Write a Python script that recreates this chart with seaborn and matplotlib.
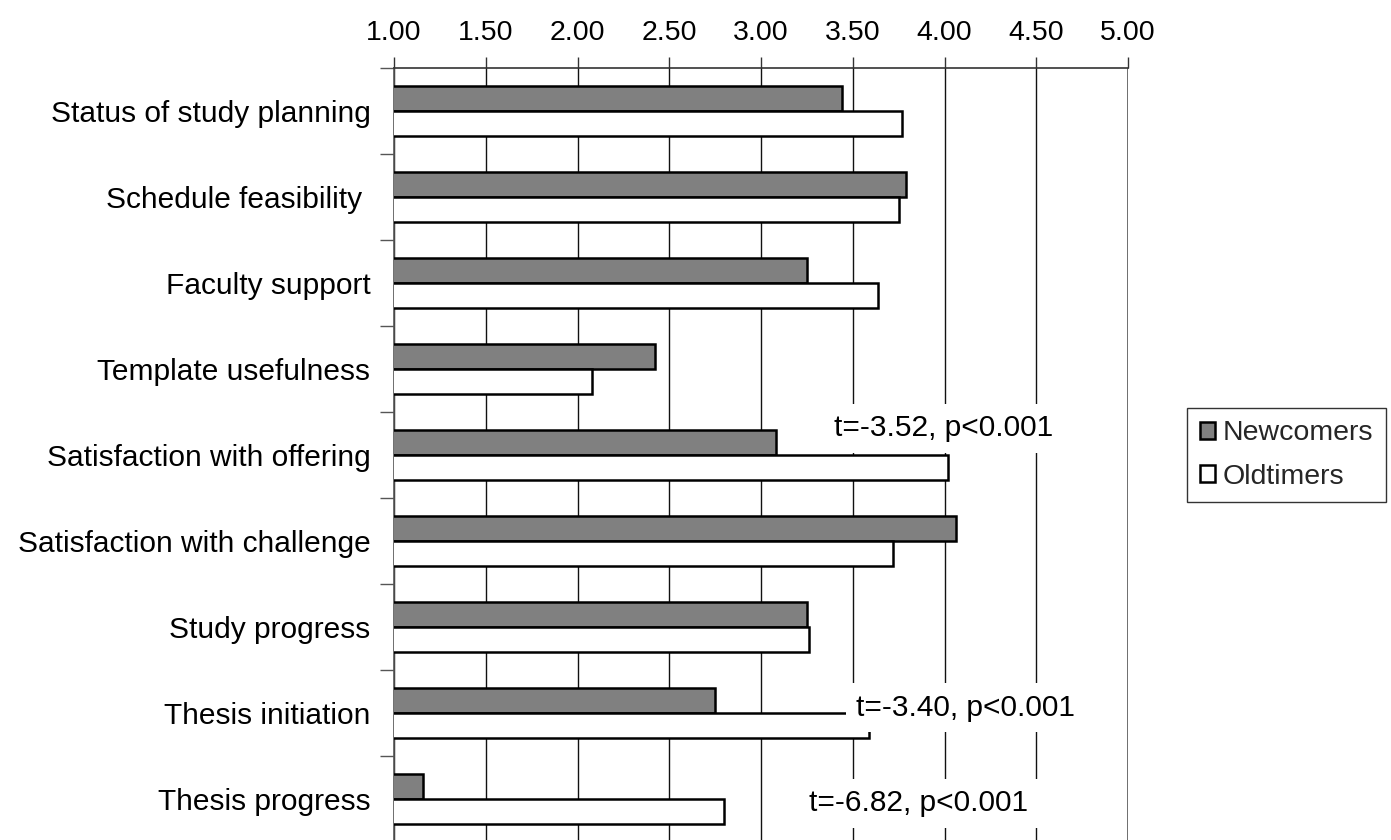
import matplotlib
matplotlib.use("Agg")
import matplotlib.pyplot as plt
import seaborn as sns
import pandas as pd
import numpy as np

categories = ["Status of study planning", "Schedule feasibility ", "Faculty support",
              "Template usefulness", "Satisfaction with offering",
              "Satisfaction with challenge", "Study progress", "Thesis initiation",
              "Thesis progress"]
newcomers = [3.44, 3.79, 3.25, 2.42, 3.08, 4.06, 3.25, 2.75, 1.16]
oldtimers = [3.77, 3.75, 3.64, 2.08, 4.02, 3.72, 3.26, 3.59, 2.80]
groups = ["Newcomers", "Oldtimers"]
xticks = [1.00, 1.50, 2.00, 2.50, 3.00, 3.50, 4.00, 4.50, 5.00]
annotations = [("t=-3.52, p<0.001", 3.40, 3.69),
               ("t=-3.40, p<0.001", 3.52, 6.94),
               ("t=-6.82, p<0.001", 3.26, 8.05)]

df = pd.DataFrame({
    "category": categories * 2,
    "value": newcomers + oldtimers,
    "group": [groups[0]] * len(categories) + [groups[1]] * len(categories),
})

sns.set_style("white")
plt.rcParams["font.family"] = ["Liberation Sans", "DejaVu Sans"]
FS = 20.5
FS_Y = 21.5

fig = plt.figure(figsize=(13.91, 8.40), dpi=100)
ax = fig.add_axes([394/1391, 1 - 842/840, (1128-394)/1391, (842-68)/840])

sns.barplot(data=df, x="value", y="category", hue="group", orient="h",
            palette={"Newcomers": "#808080", "Oldtimers": "#ffffff"},
            edgecolor="black", linewidth=1.8, width=0.58, ax=ax,
            errorbar=None, zorder=3)

ax.set_xlim(1, 5)
ax.set_ylim(len(categories) - 0.5, -0.5)
ax.set_xticks(xticks)
ax.set_xticklabels([f"{t:.2f}" for t in xticks])
ax.xaxis.tick_top()
ax.tick_params(axis="x", which="major", top=True, bottom=False, length=8,
               width=1, color="#333333", direction="out", labelsize=FS,
               labelcolor="black", pad=8)
ax.grid(axis="x", color="#111111", linewidth=1.0, zorder=0)
ax.set_axisbelow(True)

ax.set_yticks(np.arange(len(categories)))
ax.set_yticklabels(categories)
ax.set_yticks(np.arange(len(categories) + 1) - 0.5, minor=True)
ax.tick_params(axis="y", which="major", left=False, length=0, labelsize=FS_Y,
               labelcolor="black", pad=17)
ax.tick_params(axis="y", which="minor", left=True, length=10, width=1,
               color="#555555", direction="out")
ax.set_xlabel("")
ax.set_ylabel("")

for side in ["bottom", "right"]:
    ax.spines[side].set_visible(False)
ax.spines["top"].set_color("#333333")
ax.spines["top"].set_linewidth(1.2)
ax.spines["left"].set_color("#555555")
ax.spines["left"].set_linewidth(1.2)
ax.axvline(5, color="#666666", linewidth=2, zorder=1)

for txt, xv, yv in annotations:
    ax.text(xv, yv, txt, fontsize=FS_Y, ha="left", va="center", zorder=10,
            color="black",
            bbox=dict(boxstyle="square,pad=0.35", facecolor="white", edgecolor="none"),
            clip_on=False)

handles, labels = ax.get_legend_handles_labels()
ax.legend(handles, labels, loc="center left",
          bbox_to_anchor=(1187/1391, 1 - 455/840), bbox_transform=fig.transFigure,
          frameon=True, fancybox=False, edgecolor="black", fontsize=FS,
          handlelength=0.55, handleheight=0.55, handletextpad=0.25,
          borderpad=0.45, labelspacing=0.6, borderaxespad=0)
ax.get_legend().get_frame().set_linewidth(1.0)

fig.savefig("out.png", dpi=100)
